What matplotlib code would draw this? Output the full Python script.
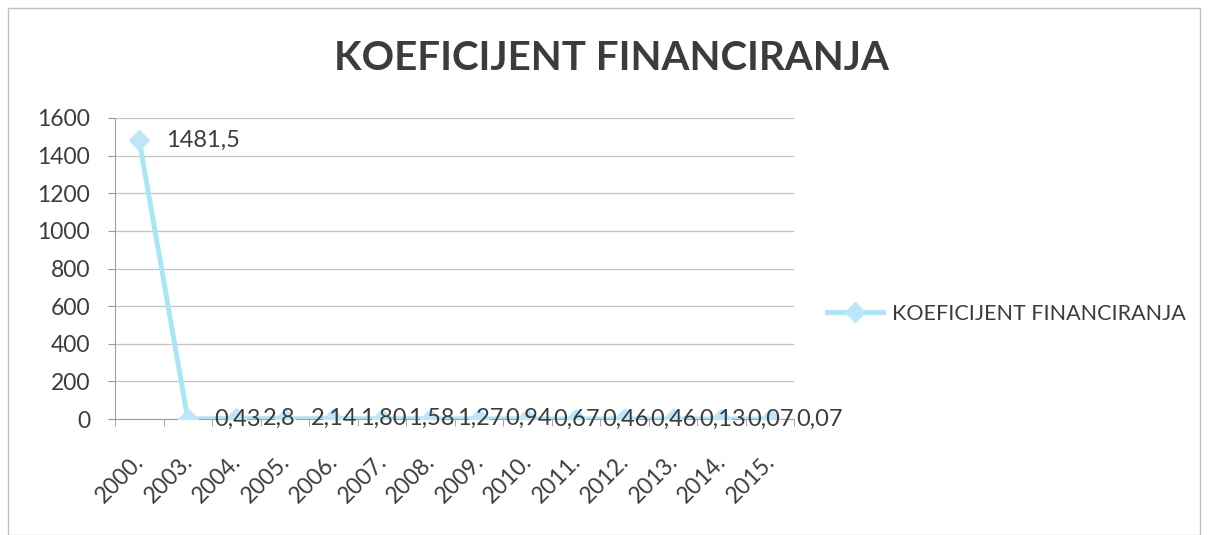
import matplotlib
matplotlib.use("Agg")
import matplotlib.pyplot as plt
import matplotlib.transforms as mtrans
from matplotlib.patches import Rectangle
from matplotlib.lines import Line2D

years = ["2000.", "2003.", "2004.", "2005.", "2006.", "2007.", "2008.", "2009.",
         "2010.", "2011.", "2012.", "2013.", "2014.", "2015."]
values = [1481.5, 0.43, 2.8, 2.14, 1.80, 1.58, 1.27, 0.94, 0.67, 0.46, 0.46, 0.13, 0.07, 0.07]
labels = ["1481,5", "0,43", "2,8", "2,14", "1,80", "1,58", "1,27", "0,94",
          "0,67", "0,46", "0,46", "0,13", "0,07", "0,07"]
series_name = "KOEFICIJENT FINANCIRANJA"
yticks = [0, 200, 400, 600, 800, 1000, 1200, 1400, 1600]

plt.rcParams['font.family'] = ['Lato', 'DejaVu Sans']
W, H = 1214, 535
fig = plt.figure(figsize=(W / 100, H / 100), dpi=100)
ax = fig.add_axes([115 / W, 1 - 419 / H, (794 - 115) / W, (419 - 118) / H])

line_c = "#a8e6f6"
marker_c = "#bde6fb"
txt_c = "#3c3c3c"
x = list(range(len(years)))
ax.plot(x, values, color=line_c, lw=3.5, marker="D", ms=10, mfc=marker_c, mec=marker_c, zorder=3)

for i, (v, lab) in enumerate(zip(values, labels)):
    ax.annotate(lab, (i, v), xytext=(19, 0), textcoords="offset points",
                ha="left", va="center", fontsize=17, color=txt_c, zorder=4)

ax.set_xlim(-0.5, len(years) - 0.5)
ax.set_ylim(0, 1600)
ax.set_yticks(yticks)
ax.set_yticklabels([str(t) for t in yticks], fontsize=16.5, color=txt_c)
ax.set_xticks(x)
ax.set_xticklabels(years, rotation=45, ha="right", rotation_mode="anchor",
                   fontsize=16.5, color=txt_c)
ax.set_xticks([i - 0.5 for i in range(len(years) + 1)], minor=True)
ax.tick_params(axis="x", which="major", length=0, pad=23)
ax.tick_params(axis="x", which="minor", length=5, color="#999999")
ax.tick_params(axis="y", length=5, color="#999999", pad=13)
ax.grid(axis="y", color="#c4c4c4", lw=0.9)
ax.set_axisbelow(True)
for s in ["top", "right"]:
    ax.spines[s].set_visible(False)
ax.spines["left"].set_color("#a0a0a0")
ax.spines["bottom"].set_color("#a0a0a0")

fig.canvas.draw()
shift = mtrans.ScaledTranslation(-6 / 100, 0, fig.dpi_scale_trans)
for t in ax.get_xticklabels():
    t.set_transform(t.get_transform() + shift)

fig.text(612 / W, 1 - 58 / H, "KOEFICIJENT FINANCIRANJA", ha="center", va="center",
         fontsize=29, fontweight="bold", color=txt_c)

handle = Line2D([], [], color=line_c, lw=3.5, marker="D", ms=10, mfc=marker_c, mec=marker_c)
fig.legend([handle], [series_name], loc="center left", bbox_to_anchor=(808 / W, 1 - 314 / H),
           frameon=False, fontsize=15.5, handlelength=2.6, handletextpad=0.4, labelcolor=txt_c)

fig.patches.append(Rectangle((8 / W, 0), (1200 - 8) / W, 1 - 8 / H, transform=fig.transFigure,
                             fill=False, edgecolor="#c0c0c0", lw=1))

fig.savefig("out.png", dpi=100, facecolor="white")
